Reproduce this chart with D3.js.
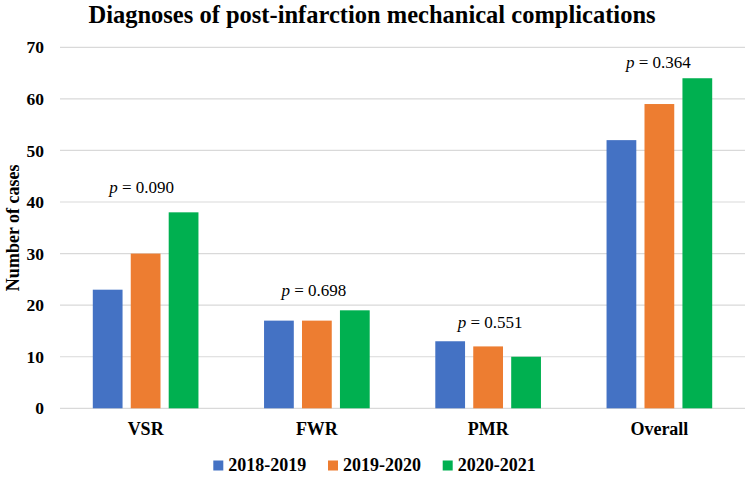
<!DOCTYPE html>
<html><head><meta charset="utf-8">
<script src="https://cdn.jsdelivr.net/npm/d3@7"></script>
<style>body{margin:0;background:#fff}svg{display:block}</style>
</head><body><svg id="c" width="750" height="478"></svg>
<script>
const categories = ["VSR", "FWR", "PMR", "Overall"];
const seriesNames = ["2018-2019", "2019-2020", "2020-2021"];
const s2018 = [23, 17, 13, 52];
const s2019 = [30, 17, 12, 59];
const s2020 = [38, 19, 10, 64];
const pValues = ["0.090", "0.698", "0.551", "0.364"];
const yTicks = [0, 10, 20, 30, 40, 50, 60, 70];

const colors = ["#4472C4", "#ED7D31", "#00B050"];
const series = [s2018, s2019, s2020];
const font = "'Liberation Serif','Times New Roman',serif";
const svg = d3.select("#c");
const L = 60, R = 745, T = 47.3, B = 408.3;

const x = d3.scaleBand().domain(categories).range([L, R]).paddingInner(0.383).paddingOuter(0.1915);
const xs = d3.scaleBand().domain(seriesNames).range([0, x.bandwidth()]).paddingInner(0.216).paddingOuter(0);
const y = d3.scaleLinear().domain([0, 70]).range([B, T]);

// title
svg.append("text").attr("x", 372).attr("y", 23).attr("text-anchor", "middle")
  .style("font-family", font).style("font-weight", "bold").style("font-size", "24.5px")
  .text("Diagnoses of post-infarction mechanical complications");

// grid
svg.append("g").selectAll("line").data(yTicks).join("line")
  .attr("x1", L).attr("x2", R).attr("y1", d => y(d)).attr("y2", d => y(d))
  .attr("stroke", "#d9d9d9").attr("stroke-width", 1.2);
const yAxis = d3.axisLeft(y).tickValues(yTicks).tickSize(0).tickPadding(16);
const ga = svg.append("g").attr("transform", `translate(${L},0)`).call(yAxis);
ga.select(".domain").remove();
ga.selectAll("text").style("font-family", font).style("font-weight", "bold").style("font-size", "17.5px").attr("fill", "#000");

// bars
categories.forEach((c, i) => {
  series.forEach((s, j) => {
    svg.append("rect")
      .attr("x", x(c) + xs(seriesNames[j])).attr("width", xs.bandwidth())
      .attr("y", y(s[i])).attr("height", y(0) - y(s[i]))
      .attr("fill", colors[j]);
  });
});

// p labels
const pOffsets = [19, 14, 13, 10];
const pShift = [-4, -3, 2, -1];
categories.forEach((c, i) => {
  const mx = d3.max(series, s => s[i]);
  const t = svg.append("text").attr("x", x(c) + x.bandwidth() / 2 + pShift[i]).attr("y", y(mx) - pOffsets[i])
    .attr("text-anchor", "middle").style("font-family", font).style("font-size", "17px");
  t.append("tspan").style("font-style", "italic").text("p");
  t.append("tspan").text(" = " + pValues[i]);
});

// x labels
const xAxis = d3.axisBottom(x).tickSize(0).tickPadding(14);
const gx = svg.append("g").attr("transform", `translate(0,${B})`).call(xAxis);
gx.select(".domain").remove();
gx.selectAll("text").style("font-family", font).style("font-weight", "bold").style("font-size", "18px").attr("fill", "#000");

// y title
svg.append("text").attr("transform", `translate(19,${(T + B) / 2}) rotate(-90)`).attr("text-anchor", "middle")
  .style("font-family", font).style("font-weight", "bold").style("font-size", "18px")
  .text("Number of cases");

// legend
const lg = svg.append("g");
seriesNames.forEach((n, j) => {
  const lx = 213.3 + j * 114.7;
  lg.append("rect").attr("x", lx).attr("y", 460.5).attr("width", 10).attr("height", 10).attr("fill", colors[j]);
  lg.append("text").attr("x", lx + 15).attr("y", 471).style("font-family", font).style("font-weight", "bold").style("font-size", "18px").text(n);
});
</script></body></html>
